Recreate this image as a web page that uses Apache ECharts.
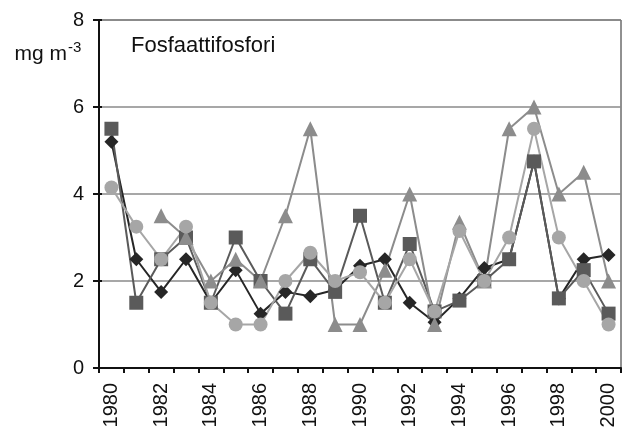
<!DOCTYPE html>
<html><head><meta charset="utf-8">
<script src="https://cdn.jsdelivr.net/npm/echarts@6/dist/echarts.min.js"></script>
<style>html,body{margin:0;padding:0;background:#fff}#c{width:622px;height:432px}</style>
</head><body><div id="c"></div>
<script>
const years = ['1980','1981','1982','1983','1984','1985','1986','1987','1988','1989','1990','1991','1992','1993','1994','1995','1996','1997','1998','1999','2000'];
const diamondVals = [5.2,2.5,1.75,2.5,1.5,2.25,1.25,1.75,1.65,1.8,2.35,2.5,1.5,1.05,1.6,2.3,2.5,4.75,1.6,2.5,2.6];
const squareVals  = [5.5,1.5,2.5,3.0,1.5,3.0,2.0,1.25,2.5,1.75,3.5,1.5,2.85,1.3,1.55,2.0,2.5,4.75,1.6,2.25,1.25];
const triangleVals= [null,null,3.5,3.0,2.0,2.5,2.0,3.5,5.5,1.0,1.0,2.25,4.0,1.0,3.35,2.0,5.5,6.0,4.0,4.5,2.0];
const circleVals  = [4.15,3.25,2.5,3.25,1.5,1.0,1.0,2.0,2.65,2.0,2.2,1.5,2.5,1.3,3.15,2.0,3.0,5.5,3.0,2.0,1.0];
const yTicks = [0,2,4,6,8];
const titleText = 'Fosfaattifosfori';
const unitText = 'mg m';
const unitSup = '-3';

const FONT = 'Liberation Sans, Arial, sans-serif';
const chart = echarts.init(document.getElementById('c'), null, {renderer:'canvas'});
function ser(name, data, symbol, color, size){
  return {name, type:'line', data, symbol, symbolSize:size, connectNulls:false,
    lineStyle:{color, width:2}, itemStyle:{color}, z:2};
}
chart.setOption({
  animation:false,
  backgroundColor:'#fff',
  grid:{left:99, right:1, top:20, bottom:64, show:true, borderColor:'#222', borderWidth:1, backgroundColor:'transparent'},
  xAxis:{type:'category', data:years, boundaryGap:true,
    axisLine:{lineStyle:{color:'#111', width:2}},
    axisTick:{show:true, interval:0, length:5, lineStyle:{color:'#111', width:2}},
    axisLabel:{interval:1, rotate:90, margin:15, color:'#111', fontSize:20, fontFamily:FONT},
    splitLine:{show:false}},
  yAxis:[{type:'value', min:yTicks[0], max:yTicks[yTicks.length-1], interval:2,
    axisLine:{show:true, lineStyle:{color:'#111', width:2}},
    axisTick:{show:true, length:6, lineStyle:{color:'#111', width:2}},
    axisLabel:{margin:15, color:'#111', fontSize:20, fontFamily:FONT},
    splitLine:{show:true, lineStyle:{color:'#8a8a8a', width:1.5}}},
   {type:'value', position:'left', min:0, max:8, interval:2,
    axisLine:{show:false}, axisLabel:{show:false}, splitLine:{show:false},
    axisTick:{show:true, inside:true, length:3, lineStyle:{color:'#111', width:2}}}],
  graphic:[
    {type:'text', x:131, y:45.6, style:{text:titleText, font:'22px '+FONT, fill:'#111', textAlign:'left', textVerticalAlign:'middle'}},
    {type:'text', x:67, y:54.5, style:{text:unitText, font:'21px '+FONT, fill:'#111', textAlign:'right', textVerticalAlign:'middle'}},
    {type:'text', x:68, y:48, style:{text:unitSup, font:'15px '+FONT, fill:'#111', textAlign:'left', textVerticalAlign:'middle'}}
  ],
  series:[
    ser('diamond', diamondVals, 'diamond', '#262626', 14),
    ser('square', squareVals, 'rect', '#5a5a5a', 14),
    ser('triangle', triangleVals, 'triangle', '#8c8c8c', 15),
    ser('circle', circleVals, 'circle', '#a6a6a6', 14)
  ]
});
</script></body></html>
